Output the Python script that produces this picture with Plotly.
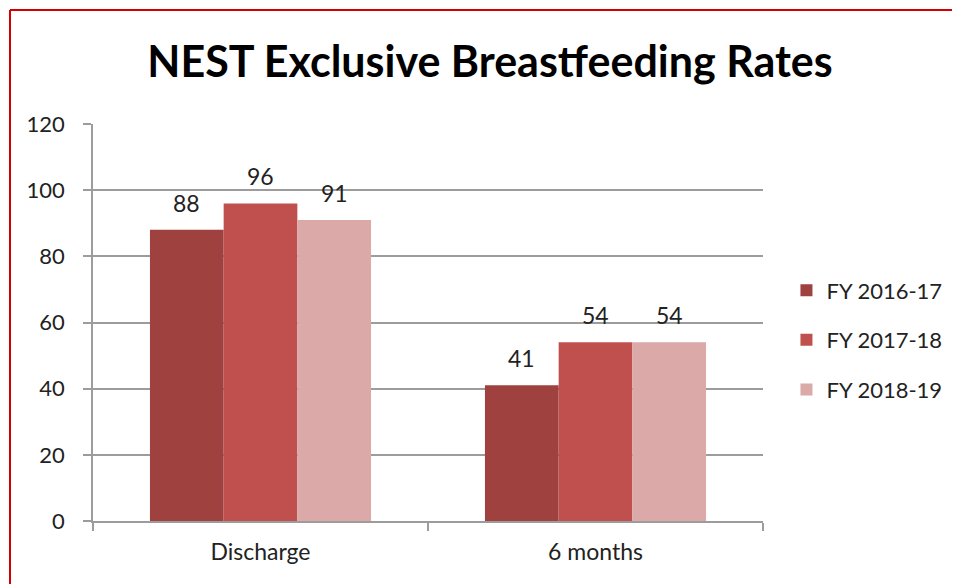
import plotly.graph_objects as go

categories = ["Discharge", "6 months"]
series_names = ["FY 2016-17", "FY 2017-18", "FY 2018-19"]
fy_2016_17 = [88, 41]
fy_2017_18 = [96, 54]
fy_2018_19 = [91, 54]
colors = ["#9E413F", "#C0504D", "#DBA9A8"]

# the page adds 8px body margin, so the figure is 8px smaller and shifted back
W, H = 952, 576
L, T, PW, PH = 85, 116, 670, 397
bargap = 0.34
bar_px = PW / len(categories) * (1 - bargap) / len(series_names)

fig = go.Figure()
all_vals = [fy_2016_17, fy_2017_18, fy_2018_19]
for i, (name, vals) in enumerate(zip(series_names, all_vals)):
    fig.add_trace(go.Bar(
        x=categories, y=vals, name=name,
        marker=dict(color=colors[i], line=dict(width=0)),
        legendgroup=name,
    ))
    for c, v in zip(categories, vals):
        fig.add_annotation(x=c, y=v, text=str(v), showarrow=False,
                           xshift=(i - 1) * bar_px, yanchor="bottom", yshift=11,
                           font=dict(size=23, color="#222"))

grid = "#9C9C9C"
fig.update_layout(
    width=W, height=H,
    paper_bgcolor="white", plot_bgcolor="white",
    font=dict(family="Lato, Open Sans, sans-serif", size=22, color="#222"),
    title=dict(text="<b>NEST Exclusive Breastfeeding Rates</b>", x=482 / W, xanchor="center",
               y=1 - 54 / H, yanchor="middle", font=dict(size=43, color="black")),
    margin=dict(l=L, r=W - L - PW, t=T, b=H - T - PH),
    barmode="group", bargap=bargap, bargroupgap=0,
    legend=dict(x=1.035, y=0.456, yanchor="middle", xanchor="left",
                tracegroupgap=18, font=dict(size=22), itemwidth=30),
    showlegend=True,
)
fig.update_xaxes(showline=True, linecolor=grid, linewidth=1.5,
                 ticks="outside", tickson="boundaries", ticklen=8, tickcolor=grid, tickwidth=1.5,
                 ticklabelstandoff=10, showgrid=False, tickfont=dict(size=23))
fig.update_yaxes(range=[0, 120], dtick=20, showline=True, linecolor=grid, linewidth=1.5,
                 ticks="outside", ticklen=8, tickcolor=grid, tickwidth=1.5, ticklabelstandoff=14,
                 showgrid=True, gridcolor=grid, gridwidth=1.5, zeroline=False)

# red frame (top and left edges only)
fx = (2 - L) / PW
fy = 1 + (T - 2) / PH
fig.add_shape(type="line", xref="paper", yref="paper", x0=fx, x1=(W - L) / PW, y0=fy, y1=fy,
              line=dict(color="#D40000", width=2))
fig.add_shape(type="line", xref="paper", yref="paper", x0=fx, x1=fx, y0=fy, y1=-(H - T - PH) / PH,
              line=dict(color="#D40000", width=2))

fig.write_html("out.html", config={"displayModeBar": False})
